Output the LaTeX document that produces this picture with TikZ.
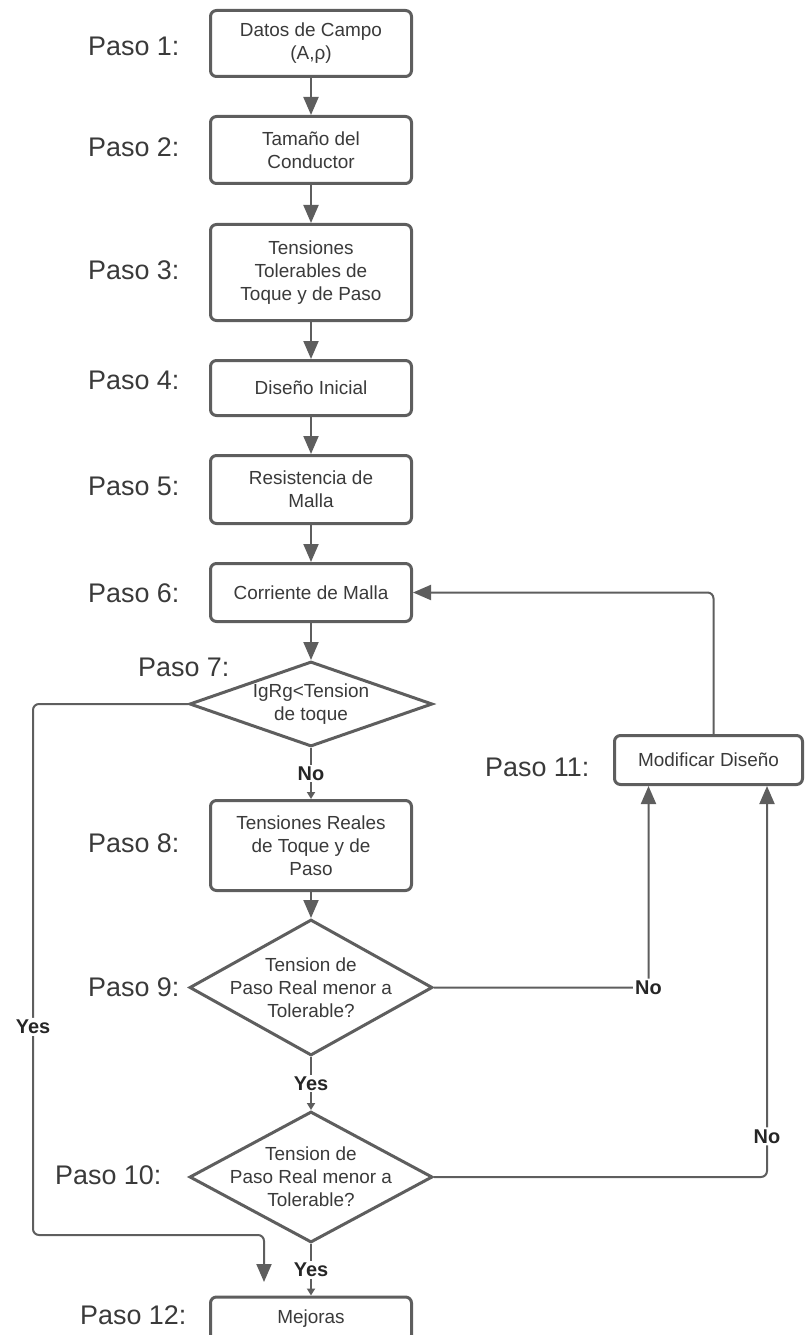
\documentclass[tikz,border=0pt]{standalone}
\usepackage{fontspec}
\setmainfont{Liberation Sans}
\usepackage{tikz}
\usetikzlibrary{arrows.meta,shapes.geometric,calc}
\definecolor{flowline}{HTML}{5E5E5E}
\definecolor{flowtext}{HTML}{3A3A3A}
\definecolor{answertext}{HTML}{262626}

\begin{document}
\begin{tikzpicture}[
  x=1bp, y=-1bp,
  >={Triangle[length=18bp,width=15bp]},
  font=\fontsize{19}{23}\selectfont,
  text=flowtext,
  flowstep/.style={
    draw=flowline,
    line width=3bp,
    rounded corners=6bp,
    fill=white,
    minimum width=201bp,
    align=center,
    inner sep=0pt
  },
  decision/.style={
    diamond,
    draw=flowline,
    line width=3bp,
    fill=white,
    minimum width=243bp,
    inner sep=0pt
  },
  edge/.style={->,draw=flowline,line width=2bp,rounded corners=6bp},
  shortedge/.style={-{Triangle[length=7bp,width=8bp]},draw=flowline,line width=2bp},
  answer/.style={font=\fontsize{20}{24}\selectfont\bfseries,text=answertext,fill=white,inner sep=2bp},
  pasolabel/.style={font=\fontsize{27}{32}\selectfont,anchor=west,inner sep=0pt}
]
\useasboundingbox (0,0) rectangle (806,1335);

\node[flowstep,minimum height=66bp] (field) at (311,43.5) {Datos de Campo\\(A,ρ)};
\node[flowstep,minimum height=67bp] (conductor) at (311,150) {Tamaño del\\Conductor};
\node[flowstep,minimum height=96bp] (tolerable) at (311,272.5) {Tensiones\\Tolerables de\\Toque y de Paso};
\node[flowstep,minimum height=55bp] (initial) at (311,388) {Diseño Inicial};
\node[flowstep,minimum height=68bp] (resist) at (311,489.5) {Resistencia de\\Malla};
\node[flowstep,minimum height=58bp] (current) at (311,592.5) {Corriente de Malla};
\node[decision,minimum height=85bp,label={[align=center]center:IgRg<Tension\\de toque}] (touch) at (311,704) {};
\node[flowstep,minimum height=90bp] (real) at (311,845.5) {Tensiones Reales\\de Toque y de\\Paso};
\node[decision,minimum height=136bp,label={[align=center]center:Tension de\\Paso Real menor a\\Tolerable?}] (stepcheck) at (311,987.5) {};
\node[decision,minimum height=131bp,label={[align=center]center:Tension de\\Paso Real menor a\\Tolerable?}] (stepcheckb) at (311,1177) {};
\node[flowstep,minimum width=188bp,minimum height=49bp] (modify) at (708.5,760) {Modificar Diseño};
\node[flowstep,minimum height=44bp] (improve) at (311,1319) {Mejoras};

\node[pasolabel] (paso1) at (88,46) {Paso 1:};
\node[pasolabel] (paso2) at (88,147) {Paso 2:};
\node[pasolabel] (paso3) at (88,270) {Paso 3:};
\node[pasolabel] (paso4) at (88,380) {Paso 4:};
\node[pasolabel] (paso5) at (88,486) {Paso 5:};
\node[pasolabel] (paso6) at (88,593) {Paso 6:};
\node[pasolabel] (paso7) at (138,667) {Paso 7:};
\node[pasolabel] (paso8) at (88,843) {Paso 8:};
\node[pasolabel] (paso9) at (88,987) {Paso 9:};
\node[pasolabel] (paso10) at (55,1175) {Paso 10:};
\node[pasolabel] (paso11) at (485,767) {Paso 11:};
\node[pasolabel] (paso12) at (80,1315) {Paso 12:};

\coordinate (yesbend) at (33,1235);
\coordinate (yesend) at (264,1282);

\draw[edge] (field) -- (conductor);
\draw[edge] (conductor) -- (tolerable);
\draw[edge] (tolerable) -- (initial);
\draw[edge] (initial) -- (resist);
\draw[edge] (resist) -- (current);
\draw[edge] (current) -- (touch);
\draw[shortedge] (touch.south) -- node[answer]{No} (real.north);
\draw[edge] (real) -- (stepcheck);
\draw[shortedge] (stepcheck.south) -- node[answer]{Yes} (stepcheckb.north);
\draw[shortedge] (stepcheckb.south) -- node[answer]{Yes} (improve.north);
\draw[edge] (touch.west) -| node[answer,pos=0.804]{Yes} (yesbend) -| (yesend);
\draw[edge] (stepcheck.east) -| node[answer,pos=0.5]{No} ([xshift=-60bp]modify.south);
\draw[edge] (stepcheckb.east) -| node[answer,pos=0.552]{No} ([xshift=58.5bp]modify.south);
\draw[edge] ([xshift=5bp]modify.north) |- (current.east);
\end{tikzpicture}
\end{document}
